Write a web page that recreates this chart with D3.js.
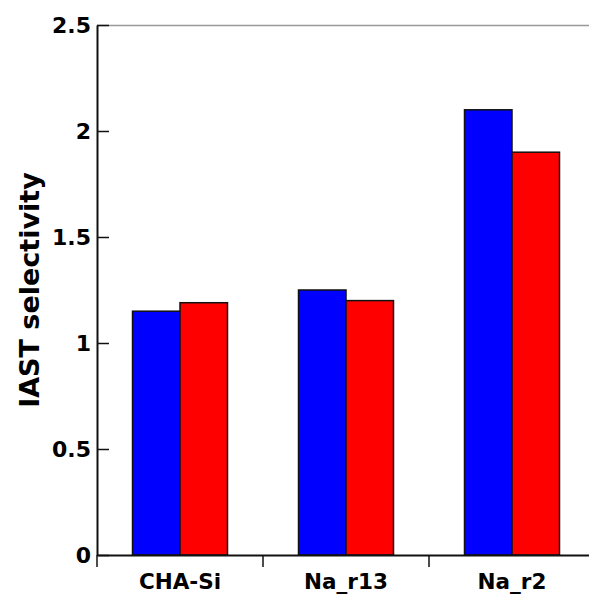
<!DOCTYPE html>
<html><head><meta charset="utf-8">
<script src="https://cdn.jsdelivr.net/npm/d3@7"></script>
<style>body{margin:0;background:#fff}svg{display:block}</style>
</head><body>
<script>
const categories = ["CHA-Si", "Na_r13", "Na_r2"];
const seriesA = [1.15, 1.25, 2.1];
const seriesB = [1.19, 1.2, 1.9];
const yTicks = [0, 0.5, 1, 1.5, 2, 2.5];
const yTickLabels = ["0", "0.5", "1", "1.5", "2", "2.5"];

const W = 589, H = 599;
const m = {left: 97, top: 25, bottom: 44};
const plotW = 498, plotH = H - m.top - m.bottom;

const svg = d3.select("body").append("svg").attr("width", W).attr("height", H);
const g = svg.append("g").attr("transform", `translate(${m.left},${m.top})`);

const x = d3.scaleBand().domain(categories).range([0, plotW]).padding(0);
const y = d3.scaleLinear().domain([0, 2.5]).range([plotH, 0]);
const bw = 47.5;

// top border
g.append("line").attr("x1", 0).attr("x2", plotW).attr("y1", 0.5).attr("y2", 0.5)
  .attr("stroke", "#999").attr("stroke-width", 1.5);

// bars
const series = [{vals: seriesA, color: "#0000ff", off: -bw}, {vals: seriesB, color: "#ff0000", off: 0}];
series.forEach(s => {
  g.selectAll(null).data(categories).enter().append("rect")
    .attr("x", d => x(d) + x.bandwidth() / 2 + s.off)
    .attr("width", bw)
    .attr("y", (d, i) => y(s.vals[i]))
    .attr("height", (d, i) => y(0) - y(s.vals[i]))
    .attr("fill", s.color).attr("stroke", "#111").attr("stroke-width", 1.5);
});

// y axis
const yAxis = d3.axisLeft(y).tickValues(yTicks).tickFormat((d, i) => yTickLabels[i])
  .tickSizeInner(-12).tickSizeOuter(0).tickPadding(5);
const ya = g.append("g").call(yAxis);
ya.select(".domain").attr("stroke", "#111").attr("stroke-width", 2);
ya.selectAll(".tick line").attr("stroke", "#111").attr("stroke-width", 1.5);
ya.selectAll(".tick text").attr("x", -6).style("font-family", "DejaVu Sans").style("font-weight", "bold").style("font-size", "22px").attr("fill", "#000");

// x axis
const xa = g.append("g").attr("transform", `translate(0,${plotH})`)
  .call(d3.axisBottom(x).tickSize(0).tickPadding(19));
xa.select(".domain").attr("stroke", "#111").attr("stroke-width", 2);
xa.selectAll(".tick text").style("font-family", "DejaVu Sans").style("font-weight", "bold").style("font-size", "21.5px").attr("fill", "#000");
// boundary ticks
const bounds = [0, x.bandwidth(), 2 * x.bandwidth(), 3 * x.bandwidth()];
xa.selectAll(".btick").data(bounds).enter().append("line")
  .attr("x1", d => d).attr("x2", d => d).attr("y1", 0).attr("y2", 12)
  .attr("stroke", "#111").attr("stroke-width", 1.5);

// y label
svg.append("text").attr("transform", `translate(39,${m.top + plotH / 2}) rotate(-90)`)
  .attr("text-anchor", "middle")
  .style("font-family", "DejaVu Sans").style("font-weight", "bold").style("font-size", "27px")
  .text("IAST selectivity");
</script>
</body></html>
